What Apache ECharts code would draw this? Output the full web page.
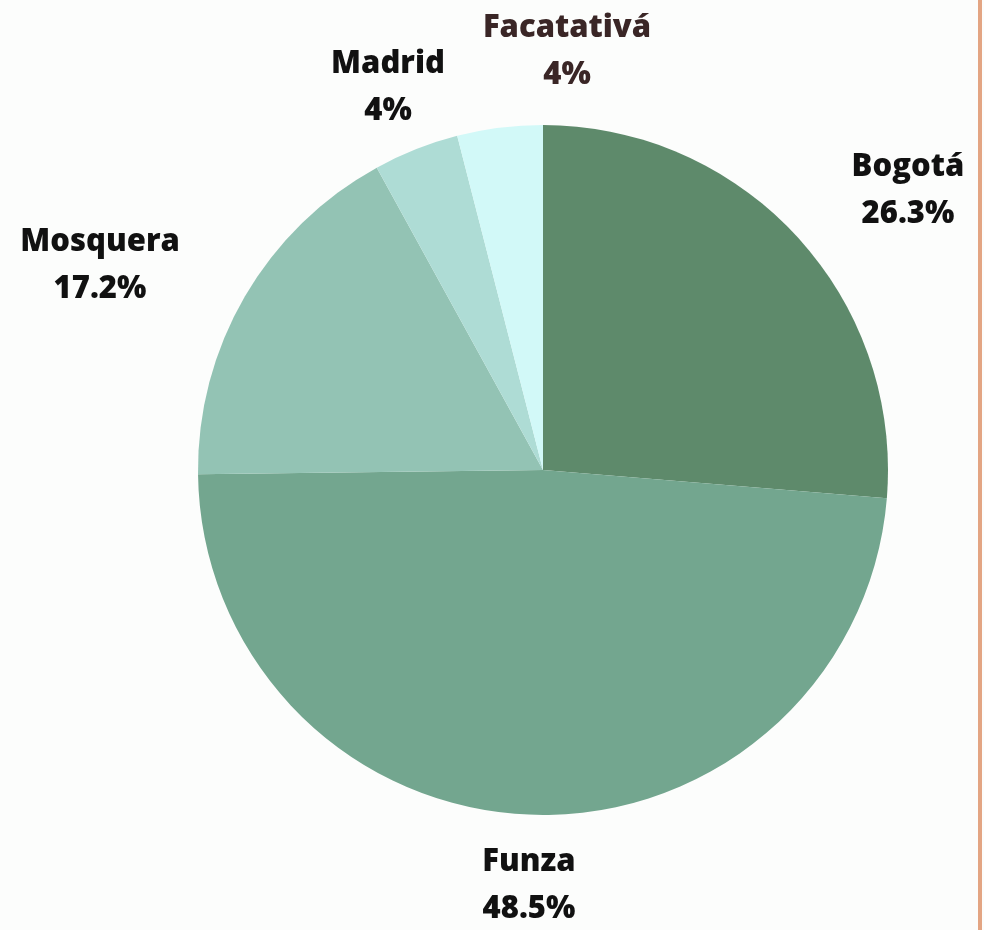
<!DOCTYPE html>
<html>
<head>
<meta charset="utf-8">
<script src="https://cdn.jsdelivr.net/npm/echarts@6/dist/echarts.min.js"></script>
<style>
  html, body { margin: 0; padding: 0; background: #fcfdfc; }
  #chart { width: 984px; height: 930px; }
  #edge { position: absolute; left: 978px; top: 0; width: 4px; height: 930px; background: #e3a583; }
</style>
</head>
<body>
<div id="chart"></div>
<div id="edge"></div>
<script>
const cities = ['Bogotá', 'Funza', 'Mosquera', 'Madrid', 'Facatativá'];
const shares = [26.3, 48.5, 17.2, 4, 4];
const colors = ['#5e8a6b', '#73a68f', '#93c3b4', '#aedcd5', '#d2f9f8'];
const labelColors = ['#111', '#111', '#111', '#111', '#3a2626'];
// where each label sits (centre of the two lines)
const labelPos = [[908, 191], [529, 886], [100, 266], [388, 88], [567, 52]];

let chart = echarts.init(document.querySelector('#chart'));

let option = {
    animation: false,
    series: [
        {
            type: 'pie',
            center: [543, 470],
            radius: 345,
            startAngle: 90,
            clockwise: true,
            data: cities.map((c, i) => ({
                name: c,
                value: shares[i],
                itemStyle: { color: colors[i] },
                label: { color: labelColors[i] }
            })),
            label: {
                show: true,
                position: 'outside',
                formatter: (p) => p.name + '\n' + p.value + '%',
                fontFamily: 'Open Sans',
                fontWeight: 800,
                fontSize: 31,
                lineHeight: 47,
                align: 'center'
            },
            labelLine: { show: false },
            labelLayout: (params) => ({
                x: labelPos[params.dataIndex][0],
                y: labelPos[params.dataIndex][1],
                align: 'center',
                verticalAlign: 'middle'
            })
        }
    ]
};
chart.setOption(option);
</script>
</body>
</html>
